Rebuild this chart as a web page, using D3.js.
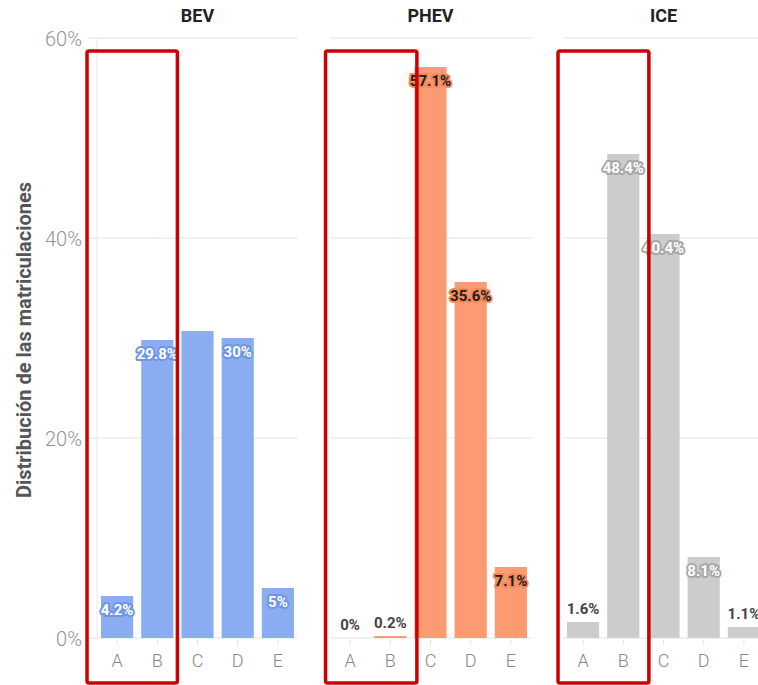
<!DOCTYPE html>
<html>
<head>
<meta charset="utf-8">
<script src="https://cdn.jsdelivr.net/npm/d3@7"></script>
<style>
  html, body { margin: 0; padding: 0; background: #fff; }
  svg { display: block; font-family: Roboto, "Noto Sans", sans-serif; }
</style>
</head>
<body>
<script>
// Energy-efficiency label (A–E) share of registrations, per powertrain
const categories = ["A", "B", "C", "D", "E"];
const panelNames = ["BEV", "PHEV", "ICE"];
const bevValues  = [4.2, 29.8, 30.7, 30, 5];
const phevValues = [0, 0.2, 57.1, 35.6, 7.1];
const iceValues  = [1.6, 48.4, 40.4, 8.1, 1.1];
const yTicks = [0, 20, 40, 60];
const yTickLabels = ["0%", "20%", "40%", "60%"];
const highlightedCategories = ["A", "B"];
const hiddenLabels = { BEV: ["C"], PHEV: [], ICE: [] };
const yTitle = "Distribución de las matriculaciones";

const seriesValues = [bevValues, phevValues, iceValues];

// Styles per panel: bar fill, label text, label halo, frame padding
const panelStyles = [
  { fill: "#8aadf2", text: "#ffffff", halo: "#6f95e6", padL: 14, padR: 4 },
  { fill: "#fc9b72", text: "#1e1e1e", halo: "#f2885c", padL: 8.5, padR: 10.5 },
  { fill: "#cccccc", text: "#ffffff", halo: "#a8a8a8", padL: 9, padR: 9.5 }
];

const W = 758, H = 685;
const svg = d3.select("body").append("svg").attr("width", W).attr("height", H);

const y = d3.scaleLinear().domain([0, 60]).range([638, 38]);

const panelLeft = 97, panelWidth = 201, panelGap = 233;

// Y-axis title
svg.append("text")
  .attr("transform", `translate(31,340) rotate(-90)`)
  .attr("text-anchor", "middle")
  .attr("font-size", 20)
  .attr("font-weight", 700)
  .attr("fill", "#555")
  .text(yTitle);

// Y tick labels (shared, left of first panel)
svg.append("g").selectAll("text")
  .data(yTicks)
  .join("text")
  .attr("x", 82)
  .attr("y", d => y(d) + 8)
  .attr("text-anchor", "end")
  .attr("font-size", 20)
  .attr("font-weight", 300)
  .attr("fill", "#939393")
  .text((d, i) => yTickLabels[i]);

panelNames.forEach((name, pi) => {
  const x0 = panelLeft + pi * panelGap;
  const values = seriesValues[pi];
  const style = panelStyles[pi];
  const data = categories.map((c, i) => ({ cat: c, v: values[i] }));

  const x = d3.scaleBand()
    .domain(categories)
    .range([x0, x0 + panelWidth])
    .paddingInner(0.2)
    .paddingOuter(0.1);

  const g = svg.append("g");

  // Gridlines
  const gridStart = pi === 0 ? x0 - 9 : x0;
  g.append("g").selectAll("line")
    .data(yTicks)
    .join("line")
    .attr("x1", gridStart)
    .attr("x2", x0 + panelWidth)
    .attr("y1", d => y(d))
    .attr("y2", d => y(d))
    .attr("stroke", "#ececec")
    .attr("stroke-width", 1.5);

  if (pi === 0) {
    g.append("line")
      .attr("x1", x0).attr("x2", x0)
      .attr("y1", y(60)).attr("y2", y(0))
      .attr("stroke", "#efefef")
      .attr("stroke-width", 1.5);
  }

  // Panel title
  g.append("text")
    .attr("x", x0 + panelWidth / 2)
    .attr("y", 22)
    .attr("text-anchor", "middle")
    .attr("font-size", 18)
    .attr("font-weight", 700)
    .attr("fill", "#222")
    .text(name);

  // X axis ticks and labels
  const xAxis = d3.axisBottom(x).tickSize(5).tickPadding(9);
  const ax = g.append("g")
    .attr("transform", `translate(0,${y(0) + 2})`)
    .call(xAxis);
  ax.select(".domain").remove();
  ax.selectAll(".tick line").attr("stroke", "#e2e2e2");
  ax.selectAll(".tick text")
    .attr("font-family", "Roboto, sans-serif")
    .attr("font-size", 18)
    .attr("font-weight", 300)
    .attr("fill", "#888");

  // Bars
  g.append("g").selectAll("rect")
    .data(data)
    .join("rect")
    .attr("x", d => x(d.cat))
    .attr("width", x.bandwidth())
    .attr("y", d => y(d.v))
    .attr("height", d => y(0) - y(d.v))
    .attr("fill", style.fill);

  // Value labels: inside the bar top for taller bars, above for tiny ones
  const labelled = data.filter(d => !hiddenLabels[name].includes(d.cat));
  g.append("g").selectAll("text")
    .data(labelled)
    .join("text")
    .attr("x", d => x(d.cat) + x.bandwidth() / 2)
    .attr("y", d => d.v < 3 ? y(d.v) - 13 : y(d.v) + 14)
    .attr("dy", "0.35em")
    .attr("text-anchor", "middle")
    .attr("font-size", 15)
    .attr("font-weight", 700)
    .attr("paint-order", "stroke")
    .attr("stroke-linejoin", "round")
    .attr("stroke-width", 4)
    .attr("stroke", d => d.v < 3 ? "#ffffff" : style.halo)
    .attr("fill", d => d.v < 3 ? "#444" : style.text)
    .text(d => `${d.v}%`);

  // Highlight frame around the A–B categories
  const first = highlightedCategories[0];
  const last = highlightedCategories[highlightedCategories.length - 1];
  const fx1 = x(first) - style.padL;
  const fx2 = x(last) + x.bandwidth() + style.padR;
  svg.append("rect")
    .attr("x", fx1)
    .attr("y", 51)
    .attr("width", fx2 - fx1)
    .attr("height", 632)
    .attr("rx", 2)
    .attr("fill", "none")
    .attr("stroke", "#cc0000")
    .attr("stroke-width", 3.5);
});
</script>
</body>
</html>
